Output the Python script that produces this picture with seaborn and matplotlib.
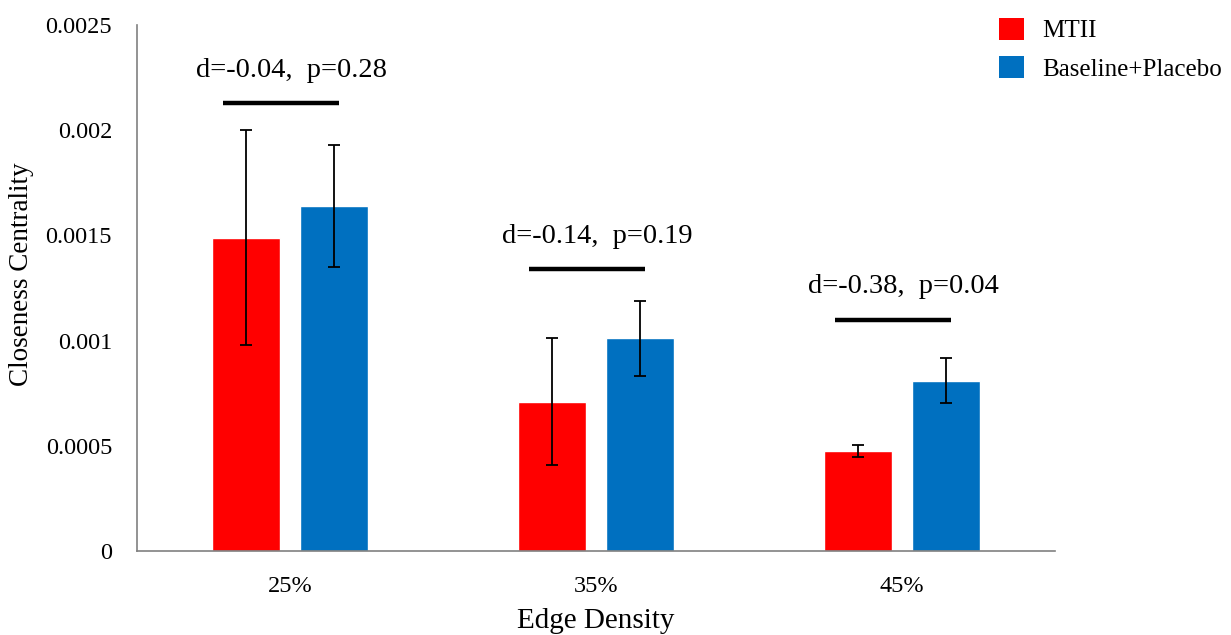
import matplotlib
matplotlib.use("Agg")
import matplotlib.pyplot as plt
import seaborn as sns
import pandas as pd
from matplotlib.patches import Patch

# Data
densities = ["25%", "35%", "45%"]
groups = ["MTII", "Baseline+Placebo"]
mtii_mean = [0.00149, 0.00071, 0.000477]
mtii_err = [0.00051, 0.00030, 0.000028]
base_mean = [0.00164, 0.00101, 0.00081]
base_err = [0.00029, 0.00018, 0.000105]
sig_y = [0.00213, 0.00134, 0.00110]
sig_text = ["d=-0.04,  p=0.28", "d=-0.14,  p=0.19", "d=-0.38,  p=0.04"]
y_ticks = [0, 0.0005, 0.001, 0.0015, 0.002, 0.0025]
y_tick_labels = ["0", "0.0005", "0.001", "0.0015", "0.002", "0.0025"]

colors = {"MTII": "#FF0000", "Baseline+Placebo": "#0070C0"}

df = pd.DataFrame({
    "density": densities * 2,
    "group": [groups[0]] * 3 + [groups[1]] * 3,
    "value": mtii_mean + base_mean,
})
errors = {groups[0]: mtii_err, groups[1]: base_err}

sns.set_theme(style="white")
plt.rcParams["font.family"] = ["Liberation Serif", "DejaVu Serif"]
plt.rcParams["text.color"] = "black"
plt.rcParams["axes.labelcolor"] = "black"
plt.rcParams["xtick.color"] = "black"
plt.rcParams["ytick.color"] = "black"

fig = plt.figure(figsize=(12.31, 6.35), dpi=100)
ax = fig.add_axes([0.1113, 0.1323, 0.857 - 0.1113, 0.9606 - 0.1323])

sns.barplot(data=df, x="density", y="value", hue="group", order=densities,
            hue_order=groups, palette=colors, width=0.572, gap=0.218,
            errorbar=None, legend=False, ax=ax, saturation=1)

# error bars drawn at each bar's centre
for container, grp in zip(ax.containers, groups):
    for bar, err in zip(container, errors[grp]):
        xc = bar.get_x() + bar.get_width() / 2
        ax.errorbar(xc, bar.get_height(), yerr=err, fmt="none",
                    ecolor="black", elinewidth=1.3, capsize=4, capthick=1.3)

# comparison lines and effect-size labels
for i, (y, txt) in enumerate(zip(sig_y, sig_text)):
    ax.plot([i - 0.22, i + 0.16], [y, y], color="black", lw=3.2,
            solid_capstyle="butt")
    ax.text(i + 0.005, y + 0.000155, txt, ha="center", va="center",
            fontsize=20.5, color="black")

ax.set_xlim(-0.5, 2.5)
ax.set_ylim(0, 0.0025)
ax.set_yticks(y_ticks)
ax.set_yticklabels(y_tick_labels)
ax.tick_params(axis="y", length=0, pad=18, labelsize=17.5)
ax.tick_params(axis="x", length=0, pad=18, labelsize=17.5)
ax.set_xlabel("Edge Density", fontsize=21, labelpad=8)
ax.set_ylabel("Closeness Centrality", fontsize=19.5)
ax.yaxis.set_label_coords(-0.112, 0.527)

for s in ["top", "right"]:
    ax.spines[s].set_visible(False)
for s in ["left", "bottom"]:
    ax.spines[s].set_color("#808080")
    ax.spines[s].set_linewidth(1.2)

handles = [Patch(facecolor=colors[g], edgecolor="none") for g in groups]
fig.legend(handles, groups, loc="upper left", bbox_to_anchor=(0.797, 1.0),
           frameon=False, fontsize=18, handlelength=1.0, handleheight=1.0,
           handletextpad=0.75, labelspacing=0.55, borderaxespad=0.3)

fig.savefig("out.png", dpi=100)
